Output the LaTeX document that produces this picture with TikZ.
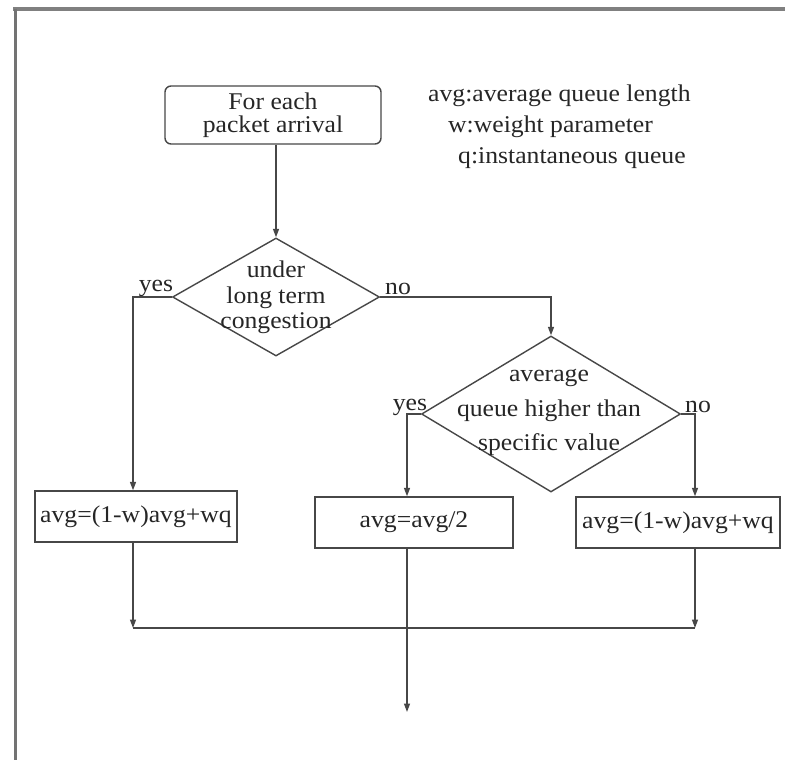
\documentclass[tikz,border=0pt]{standalone}
\usepackage{fontspec}
\setmainfont[FakeStretch=1.07]{Liberation Serif}
\usetikzlibrary{shapes.geometric,arrows.meta}
\begin{document}
\begin{tikzpicture}[x=1pt,y=-1pt,
  line/.style={draw=black!72, line width=1.4pt},
  arr/.style={line, -{Triangle[length=8.5pt,width=6pt]}},
  txt/.style={font=\fontsize{24}{24}\selectfont, text=black!85, inner sep=0pt},
  procbox/.style={line, rectangle, inner sep=0pt, font=\fontsize{24}{24}\selectfont, text=black!85},
  decision/.style={line, diamond, inner sep=0pt}]
% canvas and frame
\useasboundingbox (0,0) rectangle (785,760);
\fill[white] (0,0) rectangle (785,760);
\draw[black!50, line width=4pt] (13,9) -- (785,9);
\draw[black!55, line width=3pt] (15,9) -- (15,760);

% start
\node[procbox, rounded corners=6pt, minimum width=216pt, minimum height=58pt,
      align=center] (start) at (273,115) {For each\\[-1pt]packet arrival};

% legend
\node[txt, anchor=west] (leg1) at (428,96) {avg:average queue length};
\node[txt, anchor=west] (leg2) at (448,127) {w:weight parameter};
\node[txt, anchor=west] (leg3) at (458,158) {q:instantaneous queue};

% decisions
\node[decision, minimum width=207pt, minimum height=118pt] (d1) at (276,297) {};
\node[txt, align=center] (d1t) at (276,297) {under\\[2pt]long term\\[1pt]congestion};
\node[decision, minimum width=259pt, minimum height=156pt] (d2) at (551,414) {};
\node[txt, align=center] (d2t) at (549,412) {average\\[11pt]queue higher than\\[10pt]specific value};

% processing boxes
\node[procbox, minimum width=202pt, minimum height=51pt] (b1) at (136,516.5) {avg=(1-w)avg+wq};
\node[procbox, minimum width=198pt, minimum height=51pt] (b2) at (414,522.5) {avg=avg/2};
\node[procbox, minimum width=204pt, minimum height=51pt] (b3) at (678,522.5) {avg=(1-w)avg+wq};

% branch labels
\node[txt] (y1) at (156,288) {yes};
\node[txt] (n1) at (398,289) {no};
\node[txt] (y2) at (410,407) {yes};
\node[txt] (n2) at (698,407) {no};

% column positions of the vertical runs
\coordinate (c1) at (133,0);
\coordinate (c2) at (407,0);
\coordinate (c3) at (695,0);
\coordinate (m1) at (133,628);
\coordinate (m2) at (407,628);
\coordinate (m3) at (695,628);
\coordinate (out) at (407,712);

% connectors
\draw[arr] (start.south -| d1.north) -- (d1.north);
\draw[arr] (d1.west) -| (b1.north -| c1);
\draw[arr] (d1.east) -| (d2.north);
\draw[arr] (d2.west) -| (b2.north -| c2);
\draw[arr] (d2.east) -| (b3.north -| c3);
\draw[arr] (b1.south -| c1) -- (m1);
\draw[arr] (b3.south -| c3) -- (m3);
\draw[line] (m1) -- (m3);
\draw[arr] (b2.south -| c2) -- (out);
\end{tikzpicture}
\end{document}
